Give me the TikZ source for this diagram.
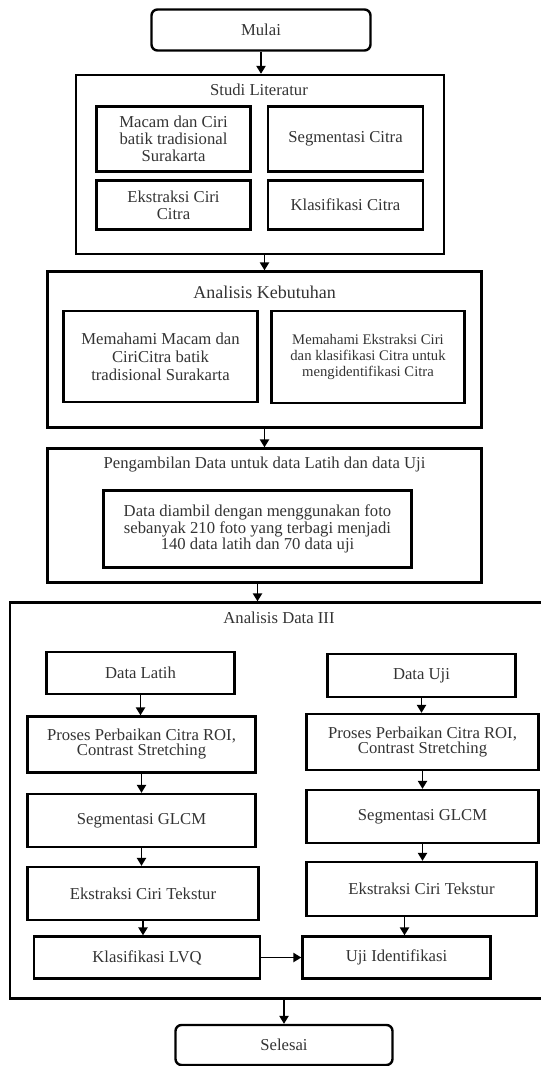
\documentclass[tikz,border=0pt]{standalone}
\usepackage{fontspec}
\setmainfont{Liberation Serif}
\usepackage{tikz}
\usetikzlibrary{positioning,arrows.meta}

\begin{document}
\begin{tikzpicture}[
  x=0.75pt, y=-0.75pt,
  every node/.style={align=center, inner sep=0pt, text=black!80,
    font=\fontsize{12.5}{12.5}\selectfont},
  box/.style={draw, line width=1.8pt},
  term/.style={box, rounded corners=4.5pt},
  sz/.style 2 args={minimum width=#1*0.75pt, minimum height=#2*0.75pt},
  head/.style={},
  arr/.style={draw, line width=1.1pt, -{Triangle[length=6pt,width=7pt]}}
]
\useasboundingbox (0,0) rectangle (540,1066);

% alur utama
\node[term, sz={219}{41}] (mulai) at (261,30) {Mulai};

\node[box, sz={368}{179}] (studi) at (260,164.5) {};
\node[head] (studiT) at (259,90) {Studi Literatur};
\node[box, sz={154}{65}, font=\fontsize{12.5}{12.75}\selectfont] (macam) at (173.5,139)
  {Macam dan Ciri\\batik tradisional\\Surakarta};
\node[box, sz={155}{65}] (segC) at (345.5,139) {Segmentasi Citra};
\node[box, sz={154}{49}] (eksC) at (173.5,205) {Ekstraksi Ciri\\Citra};
\node[box, sz={155}{49}] (klasC) at (345.5,205) {Klasifikasi Citra};

\node[box, sz={434}{156}] (ank) at (264.5,349.5) {};
\node[head, font=\fontsize{13.5}{13.5}\selectfont] (ankT) at (264.5,292) {Analisis Kebutuhan};
\node[box, sz={194}{91}, font=\fontsize{12.5}{13.5}\selectfont] (memL) at (160.5,356.5)
  {Memahami Macam dan\\CiriCitra batik\\tradisional Surakarta};
\node[box, sz={193}{92}, font=\fontsize{11}{12.3}\selectfont] (memR) at (368,357)
  {Memahami Ekstraksi Ciri\\dan klasifikasi Citra untuk\\mengidentifikasi Citra};

\node[box, sz={434}{134}] (peng) at (264.5,515.5) {};
\node[head] (pengT) at (264.5,465) {Pengambilan Data untuk data Latih dan data Uji};
\node[box, sz={308}{77}, font=\fontsize{12.5}{10}\selectfont] (dbox) at (257.5,529)
  {Data diambil dengan menggunakan foto\\sebanyak 210 foto yang terbagi menjadi\\140 data latih dan 70 data uji};

% analisis data
\node[box, sz={541}{396}] (ad3) at (280.5,800.5) {};
\node[head] (ad3T) at (279,618) {Analisis Data III};
\node[box, sz={188}{42}] (latih) at (140.5,673) {Data Latih};
\node[box, sz={188}{43}] (uji0) at (421.5,675.5) {Data Uji};
\node[box, sz={228}{56}, font=\fontsize{12.5}{11.25}\selectfont] (prosL) at (141.5,744.5)
  {Proses Perbaikan Citra ROI,\\Contrast Stretching};
\node[box, sz={232}{56}, font=\fontsize{12.5}{11.25}\selectfont] (prosR) at (422.5,742)
  {Proses Perbaikan Citra ROI,\\Contrast Stretching};
\node[box, sz={228}{53}] (segL) at (141.5,820.5) {Segmentasi GLCM};
\node[box, sz={232}{53}] (segR) at (422.5,816.5) {Segmentasi GLCM};
\node[box, sz={231}{53}] (eksL) at (143,893.5) {Ekstraksi Ciri Tekstur};
\node[box, sz={230}{54}] (eksR) at (421.5,889) {Ekstraksi Ciri Tekstur};
\node[box, sz={226}{42}] (lvq) at (147,957.5) {Klasifikasi LVQ};
\node[box, sz={188}{42}] (ujiId) at (396.5,957.5) {Uji Identifikasi};

\node[term, sz={217}{40}] (selesai) at (284,1045) {Selesai};

% panah
\draw[arr] (mulai.south) -- (mulai.south |- studi.north);
\draw[arr] (ank.north |- studi.south) -- (ank.north);
\draw[arr] (ank.south) -- (peng.north);
\draw[arr] (peng.south -| dbox.south) -- (ad3.north -| dbox.south);
\foreach \a/\b in {latih/prosL, prosL/segL, segL/eksL, eksL/lvq,
                   uji0/prosR, prosR/segR, segR/eksR}
  \draw[arr] (\a.south) -- (\a.south |- \b.north);
\draw[arr] ([xshift=6pt]ujiId.north |- eksR.south) -- ([xshift=6pt]ujiId.north);
\draw[arr] (lvq.east) -- (ujiId.west);
\draw[arr] (ad3.south -| selesai.north) -- (selesai.north);
\end{tikzpicture}
\end{document}
